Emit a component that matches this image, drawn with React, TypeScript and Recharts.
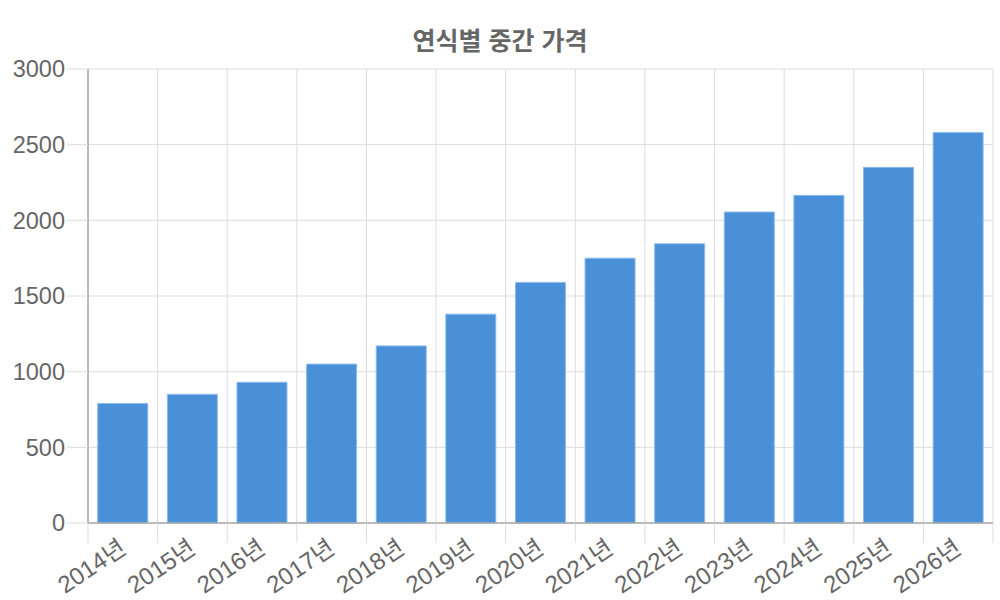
import { BarChart, Bar, XAxis, YAxis, CartesianGrid } from "recharts";

const years = [
  "2014년", "2015년", "2016년", "2017년", "2018년", "2019년", "2020년",
  "2021년", "2022년", "2023년", "2024년", "2025년", "2026년",
];
const medianPrice = [790, 850, 930, 1050, 1170, 1380, 1590, 1750, 1845, 2055, 2165, 2350, 2580];
const yTicks = [0, 500, 1000, 1500, 2000, 2500, 3000];

const chartData = years.map((year, i) => ({ year, price: medianPrice[i] }));

const FONT = "'Liberation Sans', 'Noto Sans CJK KR', sans-serif";
const GRID = "#dddddd";
const AXIS = "#a8a8a8";
const TEXT = "#666666";

// chart geometry
const W = 1000;
const H = 600;
const LEFT = 88;
const RIGHT = 7;
const TOP = 69;
const X_AXIS_H = 77;
const STEP = (W - LEFT - RIGHT) / years.length;

function XTick(props: any) {
  const { x, y, payload, index } = props;
  const bx = x - STEP / 2;
  const ax = x;
  const ay = y + 22;
  return (
    <g>
      <line x1={bx} y1={y} x2={bx} y2={y + 20} stroke={GRID} />
      {index === years.length - 1 && (
        <line x1={x + STEP / 2} y1={y} x2={x + STEP / 2} y2={y + 20} stroke={GRID} />
      )}
      <text
        x={ax}
        y={ay}
        dy="0.35em"
        textAnchor="end"
        fontSize={24}
        fill={TEXT}
        fontFamily={FONT}
        transform={`rotate(-34, ${ax}, ${ay})`}
      >
        {payload.value}
      </text>
    </g>
  );
}

export default function App() {
  return (
    <div style={{ position: "absolute", left: 0, top: 0, width: W, height: H, background: "#fff" }}>
      <div
        style={{
          position: "absolute",
          top: 21,
          left: 0,
          width: W,
          textAlign: "center",
          fontFamily: FONT,
          fontWeight: "bold",
          fontSize: 25,
          color: TEXT,
        }}
      >
        연식별 중간 가격
      </div>
      <BarChart
        width={W}
        height={H}
        data={chartData}
        margin={{ top: TOP, right: RIGHT, bottom: 0, left: 0 }}
        barCategoryGap="14%"
      >
        <CartesianGrid
          stroke={GRID}
          verticalCoordinatesGenerator={({ offset }: any) =>
            Array.from({ length: years.length + 1 }, (_, i) => offset.left + (i * offset.width) / years.length)
          }
        />
        <XAxis
          dataKey="year"
          height={X_AXIS_H}
          interval={0}
          tickSize={0}
          tickMargin={0}
          tickLine={false}
          axisLine={{ stroke: AXIS, strokeWidth: 1.5 }}
          tick={<XTick />}
        />
        <YAxis
          width={LEFT}
          domain={[0, 3000]}
          ticks={yTicks}
          interval={0}
          tickSize={21}
          tickMargin={2}
          tickLine={{ stroke: GRID }}
          axisLine={{ stroke: AXIS, strokeWidth: 1.5 }}
          tick={{ fontSize: 23.5, fill: TEXT, fontFamily: FONT }}
        />
        <Bar
          dataKey="price"
          fill="#4a90d9"
          stroke="#8dbbec"
          strokeWidth={1}
          isAnimationActive={false}
        />
      </BarChart>
    </div>
  );
}
